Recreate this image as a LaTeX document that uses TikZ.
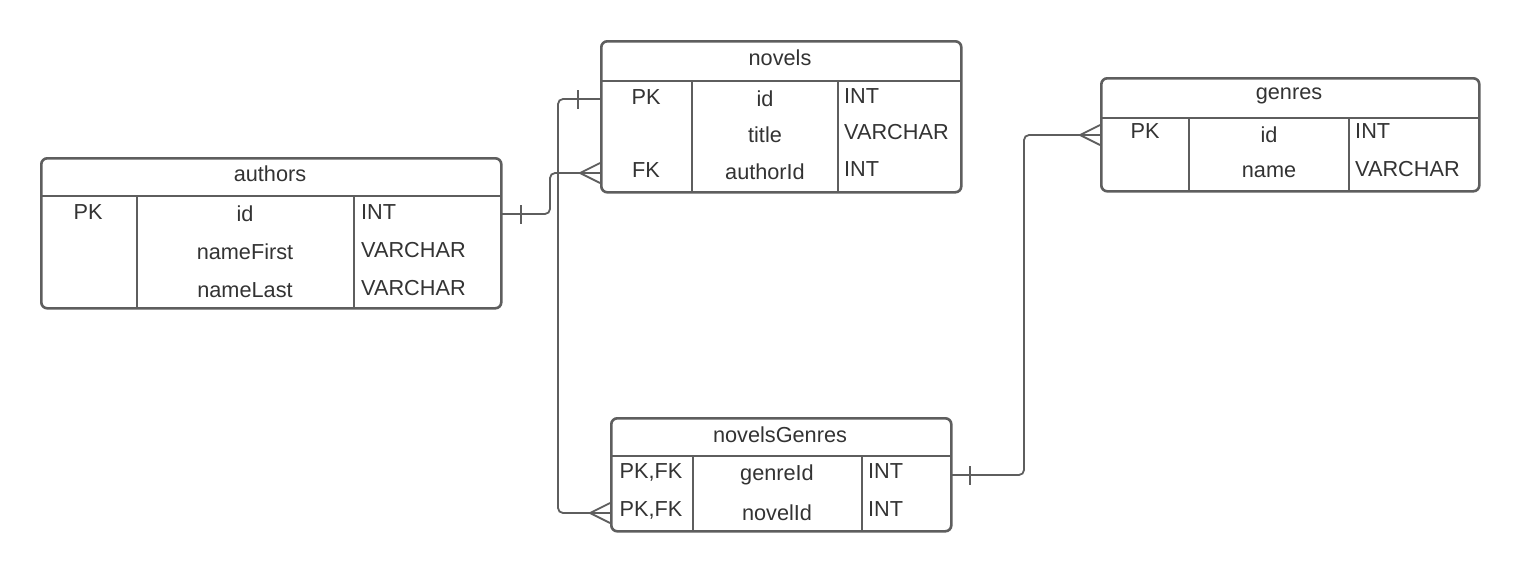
\documentclass[tikz,border=0pt]{standalone}
\usepackage{fontspec}
\setmainfont{Liberation Sans}
\definecolor{ln}{RGB}{94,94,94}
\definecolor{tx}{RGB}{51,51,51}
\tikzset{
  tblbox/.style={draw=ln, line width=2.6pt, rounded corners=6pt, anchor=north west, inner sep=0pt},
  tline/.style={draw=ln, line width=2.6pt},
  conn/.style={draw=ln, line width=1.8pt, rounded corners=5pt},
  mk/.style={draw=ln, line width=1.8pt},
  ctr/.style={text=tx, inner sep=0pt, anchor=center, font=\fontsize{21.7}{25}\selectfont},
  lft/.style={text=tx, inner sep=0pt, anchor=west, font=\fontsize{21.7}{25}\selectfont},
}
\begin{document}
\begin{tikzpicture}[x=1pt,y=-1pt]
\useasboundingbox[fill=white] (0,0) rectangle (1520,571);

% ---------- authors ----------
\node[tblbox, minimum width=460pt, minimum height=150pt] (authors) at (40,157) {};
\draw[tline] (40,196) -- (500,196);
\draw[tline] (137,196) -- (137,307);
\draw[tline] (354,196) -- (354,307);
\node[ctr] (authorsH) at (270,174) {authors};
\node[ctr] (aPK) at (88,212) {PK};
\node[ctr] (aId) at (245,214) {id};
\node[ctr] (aNF) at (245,252) {nameFirst};
\node[ctr] (aNL) at (245,290) {nameLast};
\node[lft] (aT1) at (361,212) {INT};
\node[lft] (aT2) at (361,250) {VARCHAR};
\node[lft] (aT3) at (361,288) {VARCHAR};

% ---------- novels ----------
\node[tblbox, minimum width=360pt, minimum height=151pt] (novels) at (600,40) {};
\draw[tline] (600,81) -- (960,81);
\draw[tline] (692,81) -- (692,191);
\draw[tline] (838,81) -- (838,191);
\node[ctr] (novelsH) at (780,58) {novels};
\node[ctr] (nPK) at (646,97) {PK};
\node[ctr] (nFK) at (646,170) {FK};
\node[ctr] (nId) at (765,99) {id};
\node[ctr] (nTitle) at (765,135) {title};
\node[ctr] (nAuth) at (765,172) {authorId};
\node[lft] (nT1) at (844,96) {INT};
\node[lft] (nT2) at (844,132) {VARCHAR};
\node[lft] (nT3) at (844,169) {INT};

% ---------- genres ----------
\node[tblbox, minimum width=378pt, minimum height=113pt] (genres) at (1100,77) {};
\draw[tline] (1100,118) -- (1478,118);
\draw[tline] (1189,118) -- (1189,190);
\draw[tline] (1349,118) -- (1349,190);
\node[ctr] (genresH) at (1289,96) {genres};
\node[ctr] (gPK) at (1145,131) {PK};
\node[ctr] (gId) at (1269,135) {id};
\node[ctr] (gName) at (1269,172) {name};
\node[lft] (gT1) at (1355,131) {INT};
\node[lft] (gT2) at (1355,169) {VARCHAR};

% ---------- novelsGenres ----------
\node[tblbox, minimum width=340pt, minimum height=113pt] (ng) at (610,417) {};
\draw[tline] (610,456) -- (950,456);
\draw[tline] (693,456) -- (693,530);
\draw[tline] (862,456) -- (862,530);
\node[ctr] (ngH) at (780,435) {novelsGenres};
\node[ctr] (ngK1) at (651,472) {PK,FK};
\node[ctr] (ngK2) at (651,510) {PK,FK};
\node[ctr] (ngG) at (777,475) {genreId};
\node[ctr] (ngN) at (777,513) {novelId};
\node[lft] (ngT1) at (868,471) {INT};
\node[lft] (ngT2) at (868,509) {INT};

% ---------- connector endpoints ----------
\coordinate (pA) at (500,214);
\coordinate (pNa) at (600,173);
\coordinate (pNid) at (600,99);
\coordinate (pNGn) at (610,513);
\coordinate (pNGg) at (950,475);
\coordinate (pG) at (1100,135);

% authors (one) -> novels.authorId (many)
\draw[conn] (pA) -- (550,214) -- (550,173) -- (pNa);
\draw[mk] (521,205) -- (521,224);
\draw[mk] (580,173) -- (600,163) (580,173) -- (600,183);

% novels.id (one) -> novelsGenres.novelId (many)
\draw[conn] (pNid) -- (558,99) -- (558,513) -- (pNGn);
\draw[mk] (578,90) -- (578,109);
\draw[mk] (590,513) -- (610,503) (590,513) -- (610,523);

% novelsGenres.genreId (one) -> genres.id (many)
\draw[conn] (pNGg) -- (1024,475) -- (1024,135) -- (pG);
\draw[mk] (970,466) -- (970,485);
\draw[mk] (1080,135) -- (1100,125) (1080,135) -- (1100,145);
\end{tikzpicture}
\end{document}
